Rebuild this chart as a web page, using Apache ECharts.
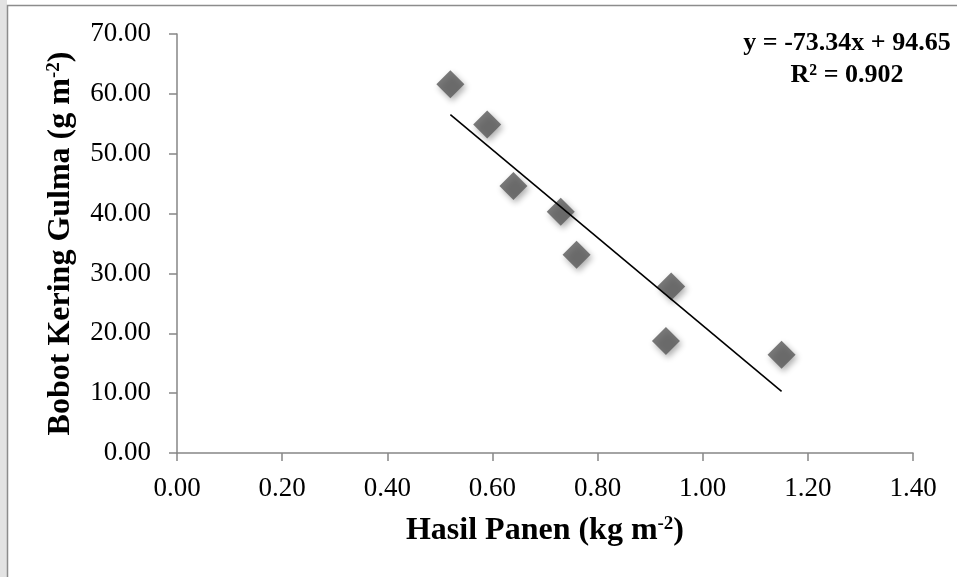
<!DOCTYPE html>
<html>
<head>
<meta charset="utf-8">
<script src="https://cdn.jsdelivr.net/npm/echarts@6/dist/echarts.min.js"></script>
<style>
  html, body { margin: 0; padding: 0; background: #fff; }
  #chart { width: 957px; height: 577px; }
</style>
</head>
<body>
<div id="chart"></div>
<script>
// hasil panen (kg m-2) vs bobot kering gulma (g m-2)
var hasilPanen = [0.52, 0.59, 0.64, 0.73, 0.76, 0.94, 0.93, 1.15];
var bobotGulma = [61.6, 54.9, 44.6, 40.3, 33.1, 27.8, 18.7, 16.4];
var slope = -73.34;
var intercept = 94.65;
var r2 = '0.902';

var chart = echarts.init(document.getElementById('chart'));

var points = [];
for (var i = 0; i < hasilPanen.length; i++) {
  points.push([hasilPanen[i], bobotGulma[i]]);
}
var xMin = Math.min.apply(null, hasilPanen);
var xMax = Math.max.apply(null, hasilPanen);
var trend = [[xMin, slope * xMin + intercept], [xMax, slope * xMax + intercept]];

var serif = '"Liberation Serif", "Times New Roman", serif';
var axisGray = '#868686';

function fmt2(v) { return v.toFixed(2); }

var supStyle = { fontFamily: serif, fontSize: 19, fontWeight: 'bold', color: '#000', verticalAlign: 'top', padding: [0, 0, 12, 0] };

chart.setOption({
  animation: false,
  backgroundColor: '#fff',
  textStyle: { fontFamily: serif },
  graphic: [
    { type: 'rect', shape: { x: 0, y: 0, width: 7, height: 577 }, style: { fill: '#e3e3e3' }, silent: true },
    { type: 'rect', shape: { x: 7.5, y: 5.5, width: 1000, height: 1000 }, style: { fill: 'none', stroke: '#8c8c8c', lineWidth: 1.5 }, silent: true },
    {
      type: 'text', x: 847, y: 27,
      style: {
        text: 'y = -73.34x + 94.65\nR² = ' + r2,
        align: 'center',
        font: 'bold 26px ' + serif,
        lineHeight: 32,
        fill: '#000'
      }
    }
  ],
  grid: { left: 177, right: 44, top: 34, bottom: 124 },
  xAxis: {
    type: 'value', min: 0, max: 1.4, interval: 0.2,
    splitLine: { show: false },
    axisLine: { onZero: false, lineStyle: { color: axisGray, width: 1.5 } },
    axisTick: { inside: false, length: 8, lineStyle: { color: axisGray, width: 1.5 } },
    axisLabel: { formatter: fmt2, fontSize: 27, color: '#000', margin: 22, fontFamily: serif },
    name: 'Hasil Panen (kg m{sup|-2})',
    nameLocation: 'middle', nameGap: 62,
    nameTextStyle: {
      fontFamily: serif, fontSize: 32, fontWeight: 'bold', color: '#000',
      rich: { sup: supStyle }
    }
  },
  yAxis: {
    type: 'value', min: 0, max: 70, interval: 10,
    splitLine: { show: false },
    axisLine: { onZero: false, lineStyle: { color: axisGray, width: 1.5 } },
    axisTick: { inside: false, length: 8, lineStyle: { color: axisGray, width: 1.5 } },
    axisLabel: { formatter: fmt2, fontSize: 27, color: '#000', margin: 26, fontFamily: serif },
    name: 'Bobot Kering Gulma (g m{sup|-2})',
    nameLocation: 'middle', nameGap: 100,
    nameTextStyle: {
      fontFamily: serif, fontSize: 32, fontWeight: 'bold', color: '#000',
      rich: { sup: supStyle }
    }
  },
  series: [
    {
      type: 'scatter',
      data: points,
      symbol: 'diamond',
      symbolSize: 28,
      itemStyle: {
        color: '#595959',
        shadowBlur: 6,
        shadowColor: 'rgba(0,0,0,0.4)',
        shadowOffsetX: 2,
        shadowOffsetY: 3
      },
      z: 3
    },
    {
      type: 'line',
      data: trend,
      symbol: 'none',
      lineStyle: { color: '#000', width: 1.6 },
      z: 4
    }
  ]
});
</script>
</body>
</html>
